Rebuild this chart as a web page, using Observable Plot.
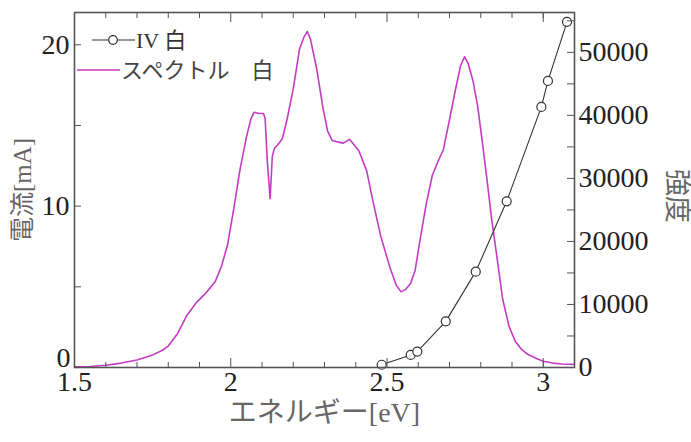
<!DOCTYPE html>
<html>
<head>
<meta charset="utf-8">
<script src="https://cdn.jsdelivr.net/npm/d3@7"></script>
<script src="https://cdn.jsdelivr.net/npm/@observablehq/plot@0.6"></script>
<style>
  html, body { margin: 0; padding: 0; background: #fff; }
  #chart { width: 691px; height: 442px; }
</style>
</head>
<body>
<div id="chart"></div>
<script>
// ---- data ----
// IV curve (white LED): energy [eV] vs current [mA]
const ivEnergy = [2.483, 2.576, 2.597, 2.688, 2.784, 2.883, 2.994, 3.015, 3.076];
const ivCurrent = [0.17, 0.78, 0.99, 2.86, 5.94, 10.3, 16.15, 17.76, 21.42];

// Spectrum (white): energy [eV] vs intensity
const specEnergy = [1.50, 1.55, 1.60, 1.65, 1.70, 1.75, 1.78, 1.80, 1.83, 1.86, 1.89, 1.92, 1.95, 1.97, 1.99,
  2.01, 2.03, 2.05, 2.065, 2.075, 2.09, 2.105, 2.11, 2.117, 2.126, 2.133, 2.14, 2.15, 2.165, 2.18,
  2.20, 2.22, 2.235, 2.245, 2.255, 2.275, 2.295, 2.31, 2.325, 2.34, 2.36, 2.38, 2.395, 2.41, 2.435,
  2.455, 2.48, 2.51, 2.53, 2.545, 2.56, 2.575, 2.59, 2.605, 2.625, 2.645, 2.665, 2.68, 2.70, 2.72,
  2.735, 2.748, 2.76, 2.775, 2.79, 2.805, 2.82, 2.835, 2.85, 2.87, 2.89, 2.91, 2.93, 2.95, 2.98,
  3.00, 3.03, 3.06, 3.097];
const specIntensity = [100, 150, 350, 700, 1200, 2000, 2700, 3400, 5400, 8300, 10300, 11800, 13600, 16000, 19500,
  25300, 31500, 36500, 39500, 40500, 40300, 40300, 39500, 32700, 26800, 33500, 34800, 35300, 36300, 39300,
  44200, 50500, 52500, 53300, 52100, 47400, 41200, 37500, 36000, 35800, 35600, 36200, 35300, 34400, 31200,
  26400, 20800, 15800, 13000, 12000, 12400, 13300, 15400, 20000, 25800, 30500, 32900, 34500, 39300, 44300,
  47800, 49300, 48200, 45500, 41500, 35800, 29800, 23500, 18200, 10900, 6600, 4200, 2900, 2100, 1400,
  1000, 700, 550, 500];

// tick labels / tick positions
const xTickLabels = [1.5, 2, 2.5, 3];
const xMinorTicks = [1.6, 1.7, 1.8, 1.9, 2.1, 2.2, 2.3, 2.4, 2.6, 2.7, 2.8, 2.9, 3.0];
const xMajorTicks = [2, 2.5, 3];
const yLeftZeroLabel = [0];
const yLeftTickLabels = [10, 20];
const yLeftTicks = [5, 10, 15, 20];
const yRightTickLabels = [0, 10000, 20000, 30000, 40000, 50000];
const yRightTicks = [5000, 10000, 15000, 20000, 25000, 30000, 35000, 40000, 45000, 50000, 55000];

const ivLabel = "IV 白";
const specLabel = "スペクトル　白";
const xTitle = "エネルギー[eV]";
const yLeftTitle = "電流[mA]";
const yRightTitle = "強度";

// right axis: intensity units per mA on the shared y scale
const RATIO = 2560;

const iv = ivEnergy.map((e, i) => ({e, mA: ivCurrent[i]}));
const spec = specEnergy.map((e, i) => ({e, v: specIntensity[i] / RATIO}));

const serif = "Liberation Serif, Noto Sans CJK JP, serif";
const magenta = "#c43cc4";

const svg = Plot.plot({
  width: 691,
  height: 442,
  marginLeft: 74,
  marginRight: 117,
  marginTop: 12,
  marginBottom: 75,
  x: {domain: [1.5, 3.1]},
  y: {domain: [0, 22]},
  style: {fontFamily: serif, background: "white", overflow: "visible"},
  marks: [
    // spectrum (right axis)
    Plot.line(spec, {x: "e", y: "v", stroke: magenta, strokeWidth: 1.6}),
    // IV curve (left axis)
    Plot.line(iv, {x: "e", y: "mA", stroke: "#333", strokeWidth: 1.1}),
    Plot.dot(iv, {x: "e", y: "mA", r: 4.5, fill: "white", stroke: "#333", strokeWidth: 1.2}),

    Plot.frame({stroke: "#555", strokeWidth: 1.6}),

    // inward tick marks
    Plot.axisX({anchor: "bottom", ticks: xMinorTicks, tickSize: -5, tickFormat: () => "", label: null, stroke: "#555"}),
    Plot.axisX({anchor: "bottom", ticks: xMajorTicks, tickSize: -9, tickFormat: () => "", label: null, stroke: "#555"}),
    Plot.axisX({anchor: "top", ticks: xMinorTicks, tickSize: -5, tickFormat: () => "", label: null, stroke: "#555"}),
    Plot.axisX({anchor: "top", ticks: xMajorTicks, tickSize: -9, tickFormat: () => "", label: null, stroke: "#555"}),
    Plot.axisY({anchor: "left", ticks: yLeftTicks, tickSize: -7, tickFormat: () => "", label: null, stroke: "#555"}),
    Plot.axisY({anchor: "right", ticks: yRightTicks.map(v => v / RATIO), tickSize: -8, tickFormat: () => "", label: null, stroke: "#555"}),

    // tick labels
    Plot.axisX({anchor: "bottom", ticks: xTickLabels, tickSize: 0, tickPadding: 4, label: null,
      tickFormat: d => String(d), fontSize: 28, fontFamily: serif, fill: "#222"}),
    Plot.axisY({anchor: "left", ticks: yLeftTickLabels, tickSize: 0, tickPadding: 5, label: null,
      tickFormat: d => String(d), fontSize: 28, fontFamily: serif, fill: "#222"}),
    Plot.axisY({anchor: "left", ticks: yLeftZeroLabel, tickSize: 0, tickPadding: 4, dy: -9, label: null,
      tickFormat: d => String(d), fontSize: 28, fontFamily: serif, fill: "#222"}),
    Plot.axisY({anchor: "right", ticks: yRightTickLabels.map(v => v / RATIO), tickSize: 0, tickPadding: 4, label: null,
      tickFormat: d => String(Math.round(d * RATIO / 1000) * 1000), fontSize: 28, fontFamily: serif, fill: "#222"}),

    // axis titles
    Plot.text([xTitle], {frameAnchor: "bottom", dy: 46, text: d => d, fontSize: 28, fill: "#666",
      fontFamily: serif, textAnchor: "middle", lineAnchor: "middle"}),
    Plot.text([yLeftTitle], {frameAnchor: "left", dx: -52, text: d => d, fontSize: 25, fill: "#666",
      fontFamily: serif, rotate: -90, textAnchor: "middle", lineAnchor: "middle"}),
    Plot.text([yRightTitle], {frameAnchor: "right", dx: 102, dy: 6, text: d => d, fontSize: 27, fill: "#666",
      fontFamily: serif, rotate: 90, textAnchor: "middle", lineAnchor: "middle"})
  ]
});

// legend (inside plot, top-left)
const g = d3.select(svg).append("g").attr("font-family", serif).attr("text-anchor", "start");
// row 1: IV
g.append("line").attr("x1", 92).attr("x2", 135).attr("y1", 40).attr("y2", 40)
  .attr("stroke", "#333").attr("stroke-width", 1.1);
g.append("circle").attr("cx", 113).attr("cy", 40).attr("r", 4.3)
  .attr("fill", "white").attr("stroke", "#333").attr("stroke-width", 1.2);
g.append("text").attr("x", 136).attr("y", 40).attr("dy", "0.35em")
  .attr("font-size", 22).attr("fill", "#333").text(ivLabel);
// row 2: spectrum
g.append("line").attr("x1", 77).attr("x2", 120).attr("y1", 70).attr("y2", 70)
  .attr("stroke", magenta).attr("stroke-width", 1.4);
g.append("text").attr("x", 121).attr("y", 70).attr("dy", "0.35em")
  .attr("font-size", 22).attr("fill", "#444").text(specLabel);

document.getElementById("chart").appendChild(svg);
</script>
</body>
</html>
